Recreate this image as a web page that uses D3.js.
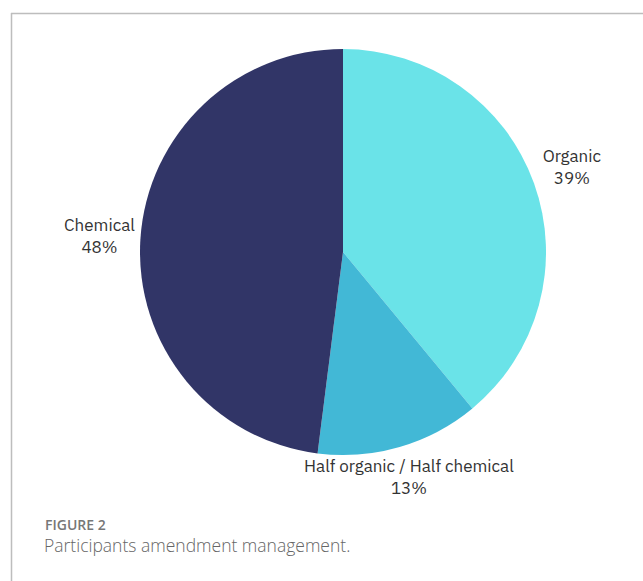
<!DOCTYPE html>
<html>
<head>
<meta charset="utf-8">
<script src="https://cdn.jsdelivr.net/npm/d3@7"></script>
<style>
  html, body { margin: 0; padding: 0; background: #fff; }
  svg { display: block; }
</style>
</head>
<body>
<svg id="chart" width="643" height="581"></svg>
<script>
// Amendment management categories, in drawing order (clockwise from 12 o'clock)
const categories = ["Organic", "Half organic / Half chemical", "Chemical"];
const shares = [39, 13, 48];
const sliceColors = ["#6ae3e8", "#42b8d6", "#313567"];

const captionLabel = "FIGURE 2";
const captionText = "Participants amendment management.";

const width = 643, height = 581;
const cx = 343, cy = 252, radius = 203;

const svg = d3.select("#chart");

// Panel frame: top and left rules
svg.append("line")
  .attr("x1", 11).attr("x2", width).attr("y1", 13.5).attr("y2", 13.5)
  .attr("stroke", "#bdbdbd").attr("stroke-width", 1.5);
svg.append("line")
  .attr("x1", 11.5).attr("x2", 11.5).attr("y1", 13).attr("y2", height)
  .attr("stroke", "#bdbdbd").attr("stroke-width", 1.5);

const data = categories.map((c, i) => ({ name: c, value: shares[i], color: sliceColors[i] }));

const pie = d3.pie().value(d => d.value).sort(null);
const arcs = pie(data);

const arc = d3.arc().innerRadius(0).outerRadius(radius);
const labelArc = d3.arc().innerRadius(240).outerRadius(240);

const g = svg.append("g").attr("transform", `translate(${cx},${cy})`);

g.selectAll("path.slice")
  .data(arcs)
  .join("path")
  .attr("class", "slice")
  .attr("d", arc)
  .attr("fill", d => d.data.color);

// small placement tweaks for each outside label
const labelNudge = { "Organic": [3, -9], "Half organic / Half chemical": [-1, -10], "Chemical": [-4, -6] };

const labels = g.selectAll("text.lbl")
  .data(arcs)
  .join("text")
  .attr("class", "lbl")
  .attr("transform", d => {
    const [x, y] = labelArc.centroid(d);
    const n = labelNudge[d.data.name];
    return `translate(${x + n[0]},${y + n[1]})`;
  })
  .attr("text-anchor", "middle")
  .attr("font-family", "'IBM Plex Sans', 'Noto Sans', sans-serif")
  .attr("font-size", 17)
  .attr("fill", "#333");

labels.append("tspan").attr("x", 0).attr("y", 0).text(d => d.data.name);
labels.append("tspan").attr("x", 0).attr("y", 22).text(d => d.data.value + "%");

// Caption
svg.append("text")
  .attr("x", 45).attr("y", 530)
  .attr("font-family", "'Open Sans', sans-serif")
  .attr("font-size", 14)
  .attr("font-weight", 600)
  .attr("fill", "#777")
  .text(captionLabel);

svg.append("text")
  .attr("x", 44).attr("y", 552)
  .attr("font-family", "'Open Sans', sans-serif")
  .attr("font-size", 17.5)
  .attr("font-weight", 300)
  .attr("fill", "#666")
  .text(captionText);
</script>
</body>
</html>
